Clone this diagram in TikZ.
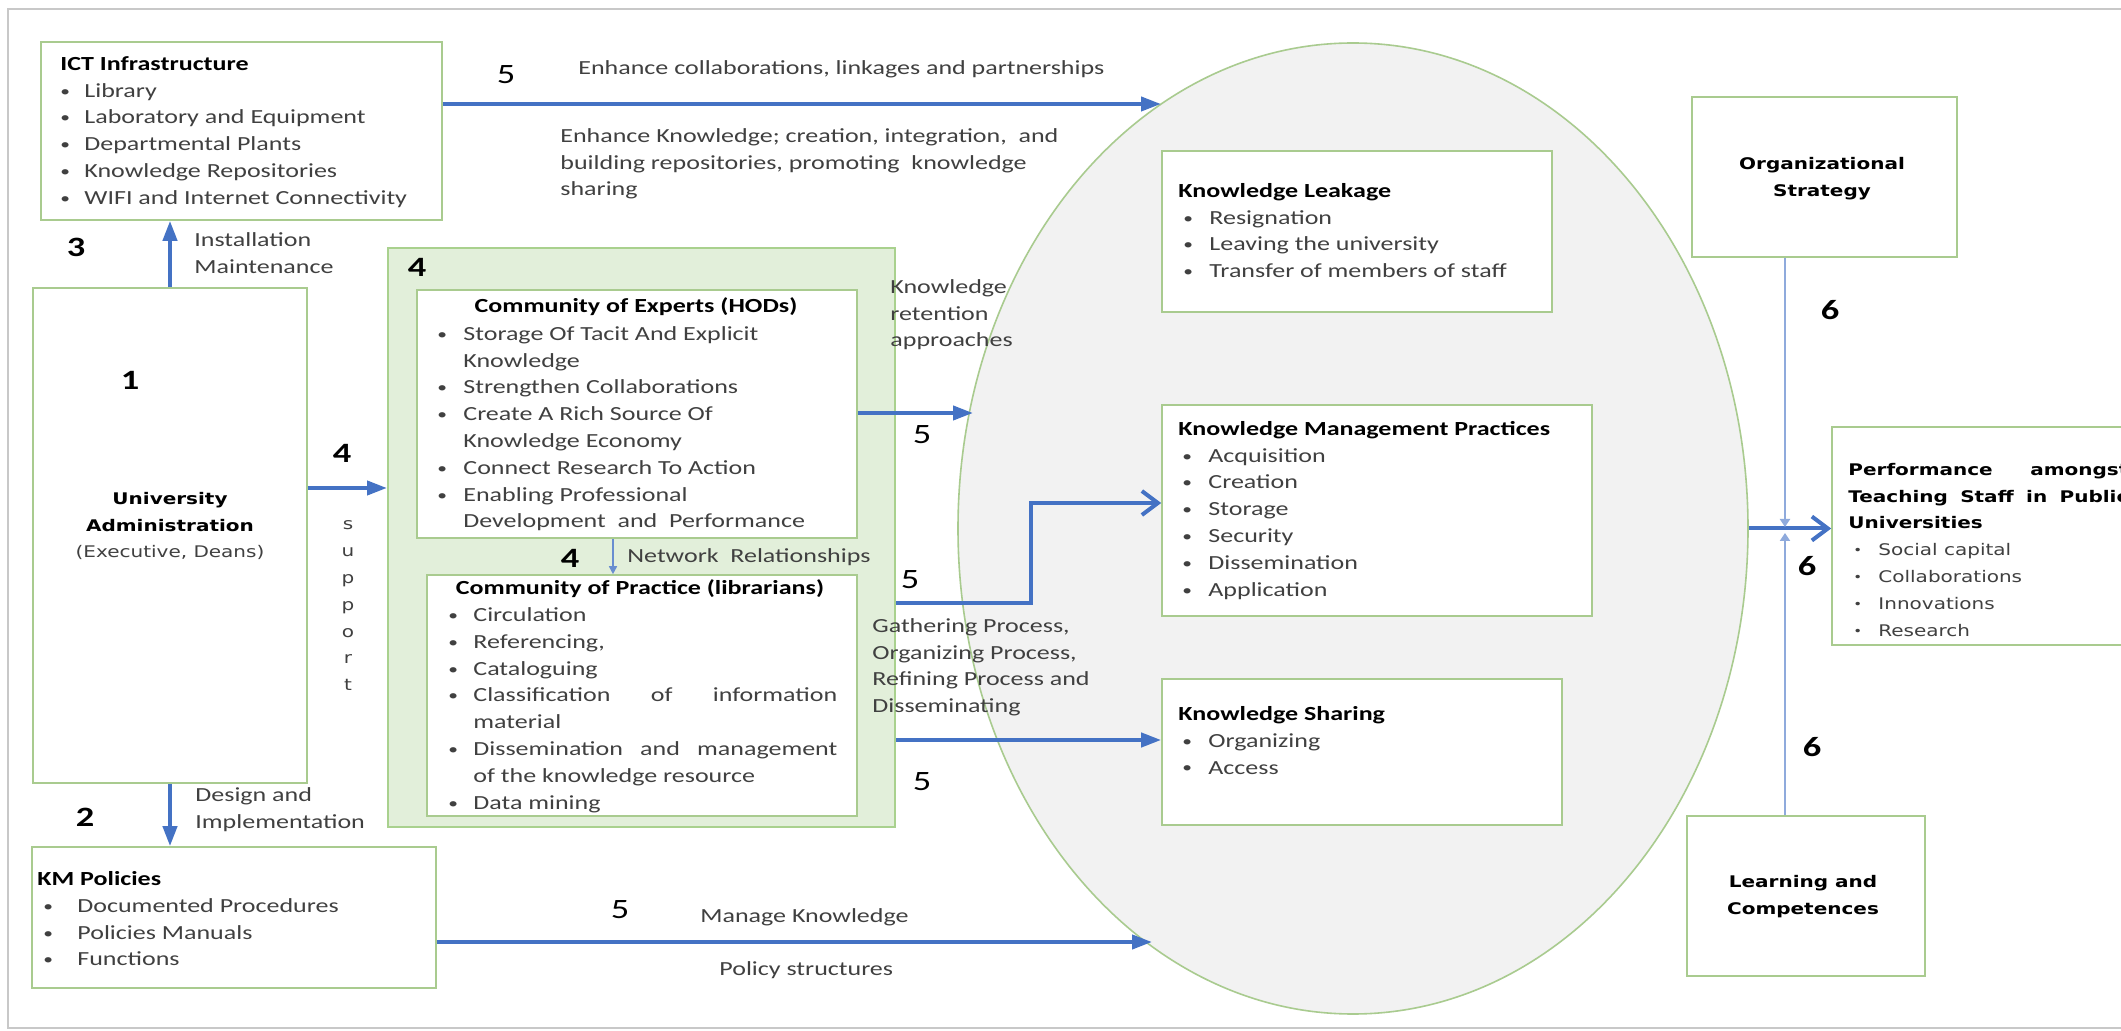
\documentclass[tikz,border=0pt]{standalone}
\usepackage{fontspec}
\setmainfont{Carlito}[FakeStretch=1.3]
\newfontfamily\tahfont{DejaVu Sans}[FakeStretch=1.25]
\usetikzlibrary{arrows.meta,shapes.geometric,fit}
\definecolor{bxgreen}{HTML}{A9CB8F}
\definecolor{grpfill}{HTML}{E2EFDA}
\definecolor{grpline}{HTML}{A9D18E}
\definecolor{ellfill}{HTML}{F2F2F2}
\definecolor{arrblue}{HTML}{4472C4}
\definecolor{thinblue}{HTML}{8FAADC}
\definecolor{txtgray}{HTML}{404040}
\definecolor{framegray}{HTML}{C8C8C8}
\newcommand\fbody{\fontsize{10}{13.4}\selectfont}
\newcommand\fnumb{\fontsize{14}{16}\selectfont\bfseries}
\newcommand\fnumr{\fontsize{14}{16}\selectfont}
\newcommand\ftah{\tahfont\fontsize{8}{13.4}\selectfont}
\newcommand\fl{\rule{0pt}{9pt}}
\newcommand\smallbul{\raisebox{0.5pt}{\scalebox{0.75}{\textbullet}}}
\newcommand\bitem[2][13pt]{\makebox[#1][l]{\smallbul}#2}
\newcommand\bcont[2][13pt]{\hspace*{#1}#2}
\newcommand\boxtitle[1]{{\color{black}\bfseries #1}}
\begin{document}
\begin{tikzpicture}[x=0.5pt,y=-0.5pt,
  box/.style={draw=bxgreen,line width=0.8pt,fill=white,inner sep=0pt},
  grpbox/.style={draw=grpline,line width=1pt,fill=grpfill,inner sep=0pt},
  txt/.style={anchor=north west,inner sep=0pt,align=left,font=\fbody,text=txtgray},
  ctxt/.style={anchor=north,inner sep=0pt,align=center,font=\ftah,text=black},
  lbl/.style={anchor=base west,inner sep=0pt,font=\fbody,text=txtgray},
  numb/.style={inner sep=0pt,font=\fnumb,text=black},
  numr/.style={inner sep=0pt,font=\fnumr,text=black},
  tarrow/.style={draw=arrblue,line width=2pt,-{Triangle[length=10pt,width=7pt]}},
  oarrow/.style={draw=arrblue,line width=2pt,line join=miter,-{Straight Barb[length=8pt,width=12pt]}},
  tharrow/.style={draw=thinblue,line width=1pt,-{Triangle[length=4pt,width=5pt]}},
  narrow/.style={draw=arrblue!80,line width=0.8pt,-{Triangle[length=4pt,width=4pt]}}]
\useasboundingbox (0,0) rectangle (2121,1031);
\clip (0,0) rectangle (2121,1031);
\fill[white] (0,0) rectangle (2121,1031);
% outer frame
\draw[framegray,line width=1pt] (8,9) rectangle (2140,1028);

% ellipse
\node[ellipse,draw=bxgreen,fill=ellfill,line width=0.8pt,minimum width=395pt,minimum height=485.5pt,inner sep=0pt] (circ) at (1353,528.5) {};

% boxes
\node[box,fit={(41,42) (442,220)}] (ict) {};
\node[box,fit={(33,288) (307,783)}] (admin) {};
\node[box,fit={(32,847) (436,988)}] (km) {};
\node[grpbox,fit={(388,248) (895,827)}] (grp) {};
\node[box,fit={(417,290) (857,538)}] (coe) {};
\node[box,fit={(427,575) (857,816)}] (cop) {};
\node[box,fit={(1162,151) (1552,312)}] (kl) {};
\node[box,fit={(1162,405) (1592,616)}] (kmp) {};
\node[box,fit={(1162,679) (1562,825)}] (ks) {};
\node[box,fit={(1692,97) (1957,257)}] (os) {};
\node[box,fit={(1687,816) (1925,976)}] (lc) {};
\node[box,fit={(1832,427) (2150,645)}] (perf) {};

% box texts
\node[txt] (ictT) at (60,52) {\fl\boxtitle{ICT Infrastructure}\\
 \bitem[12pt]{Library}\\
 \bitem[12pt]{Laboratory and Equipment}\\
 \bitem[12pt]{Departmental\ Plants}\\
 \bitem[12pt]{Knowledge Repositories}\\
 \bitem[12pt]{WIFI and Internet\ Connectivity}};

\node[ctxt] (adminT) at (170,486) {\fl{\bfseries University}\\{\bfseries Administration}\\{\color{txtgray}(Executive, Deans)}};

\node[txt] (kmT) at (37,867) {\fl\boxtitle{KM Policies}\\
 \hspace*{3pt}\bitem[17pt]{Documented\ Procedures}\\
 \hspace*{3pt}\bitem[17pt]{Policies Manuals}\\
 \hspace*{3pt}\bitem[17pt]{Functions}};

\node[anchor=base,inner sep=0pt,font=\fbody\bfseries,text=black] (coeH) at (636,313) {Community of Experts (HODs)};
\node[txt] (coeT) at (437,322) {\fl\bitem{Storage Of Tacit And Explicit}\\
 \bcont{Knowledge}\\
 \bitem{Strengthen\ Collaborations}\\
 \bitem{Create A Rich Source Of}\\
 \bcont{Knowledge Economy}\\
 \bitem{Connect Research To Action}\\
 \bitem{Enabling Professional}\\
 \bcont{Development\ \ and\ \ Performance}};

\node[anchor=base,inner sep=0pt,font=\fbody\bfseries,text=black] (copH) at (640,595) {Community of Practice (librarians)};
\node[txt] (copT) at (448,603) {\fl\bitem[12.5pt]{Circulation}\\
 \bitem[12.5pt]{Referencing,}\\
 \bitem[12.5pt]{Cataloguing}\\
 \bitem[12.5pt]{\makebox[182pt][s]{Classification\hfill of\hfill information}}\\
 \bcont[12.5pt]{material}\\
 \bitem[12.5pt]{\makebox[182pt][s]{Dissemination\hfill and\hfill management}}\\
 \bcont[12.5pt]{of the knowledge\ resource}\\
 \bitem[12.5pt]{Data mining}};

\node[txt] (klT) at (1178,179) {\fl\boxtitle{Knowledge Leakage}\\
 \hspace*{2.5pt}\bitem{Resignation}\\
 \hspace*{2.5pt}\bitem{Leaving the university}\\
 \hspace*{2.5pt}\bitem{Transfer of members\ of\ staff}};

\node[txt] (kmpT) at (1178,417) {\fl\boxtitle{Knowledge Management Practices}\\
 \hspace*{2pt}\bitem{Acquisition}\\
 \hspace*{2pt}\bitem{Creation}\\
 \hspace*{2pt}\bitem{Storage}\\
 \hspace*{2pt}\bitem{Security}\\
 \hspace*{2pt}\bitem{Dissemination}\\
 \hspace*{2pt}\bitem{Application}};

\node[txt] (ksT) at (1178,702) {\fl\boxtitle{Knowledge Sharing}\\
 \hspace*{2pt}\bitem{Organizing}\\
 \hspace*{2pt}\bitem{Access}};

\node[ctxt] (osT) at (1822,151.5) {\fl\bfseries Organizational\\\bfseries Strategy};
\node[ctxt] (lcT) at (1803,869.5) {\fl\bfseries Learning and\\\bfseries Competences};

\node[txt,font=\ftah] (perfT) at (1848,457) {\fl\makebox[140pt][s]{\color{black}\bfseries Performance\hfill amongst}\\
 \makebox[140pt][s]{\color{black}\bfseries Teaching\hfill Staff\hfill in\hfill Public}\\
 {\color{black}\bfseries Universities}\\
 \hspace*{2.5pt}\bitem[12.5pt]{Social capital}\\
 \hspace*{2.5pt}\bitem[12.5pt]{Collaborations}\\
 \hspace*{2.5pt}\bitem[12.5pt]{Innovations}\\
 \hspace*{2.5pt}\bitem[12.5pt]{Research}};

% connector end points on the ellipse
\coordinate (e1) at (1161,104);
\coordinate (e2) at (973,413);
\coordinate (e3) at (1152,942);
\coordinate (m1) at (1785,527);
\coordinate (m2) at (1785,533);

% connectors
\draw[tarrow] (ict.east |- e1) -- (e1);
\draw[tarrow] (admin.north) -- (ict.south -| admin.north);
\draw[tarrow] (admin.south) -- (km.north -| admin.south);
\draw[tarrow] (admin.east |- 0,488) -- (grp.west |- 0,488);
\draw[tarrow] (coe.east |- e2) -- (e2);
\draw[oarrow] (grp.east |- 0,603) -- ++(135,0) |- (kmp.west |- 0,503);
\draw[tarrow] (grp.east |- 0,740) -- (ks.west |- 0,740);
\draw[tarrow] (km.east |- e3) -- (e3);
\draw[oarrow] (circ.east) -- (perf.west |- circ.east);
\draw[tharrow] (os.south -| m1) -- (m1);
\draw[tharrow] (lc.north -| m2) -- (m2);
\draw[narrow] (coe.south -| 613,0) -- (cop.north -| 613,0);

% connector labels
\node[numr] (n5a) at (506,75) {5};
\node[lbl] (l5a) at (578,75) {Enhance collaborations, linkages and partnerships};
\node[txt] (l5b) at (560,124) {\fl Enhance Knowledge; creation, integration,\ \ and\\building repositories, promoting\ \ knowledge\\sharing};
\node[numb] (n3) at (76,247) {3};
\node[txt] (l3) at (194,228) {\fl Installation\\Maintenance};
\node[numb] (n4g) at (417,267) {4};
\node[numb] (n1) at (130,380) {1};
\node[numb] (n4a) at (342,453) {4};
\node[anchor=north,inner sep=0pt,align=center,font=\ftah,text=txtgray] (sup) at (348,511.5) {\fl s\\u\\p\\p\\o\\r\\t};
\node[numb] (n4b) at (570,558) {4};
\node[lbl] (l4b) at (627,563) {Network\ \ Relationships};
\node[txt] (lret) at (890,275) {\fl Knowledge\\retention\\approaches};
\node[numr] (n5b) at (922,435) {5};
\node[numr] (n5c) at (910,580) {5};
\node[txt] (lgat) at (872,614) {\fl Gathering Process,\\Organizing Process,\\Refining Process and\\Disseminating};
\node[numr] (n5d) at (922,782) {5};
\node[numb] (n2) at (85,817) {2};
\node[txt] (l2) at (195,783) {\fl Design and\\Implementation};
\node[numr] (n5e) at (620,910) {5};
\node[lbl] (lman) at (700,922) {Manage Knowledge};
\node[lbl] (lpol) at (719,975) {Policy structures};
\node[numb] (n6a) at (1830,310) {6};
\node[numb] (n6b) at (1807,566) {6};
\node[numb] (n6c) at (1812,747) {6};
\end{tikzpicture}
\end{document}
